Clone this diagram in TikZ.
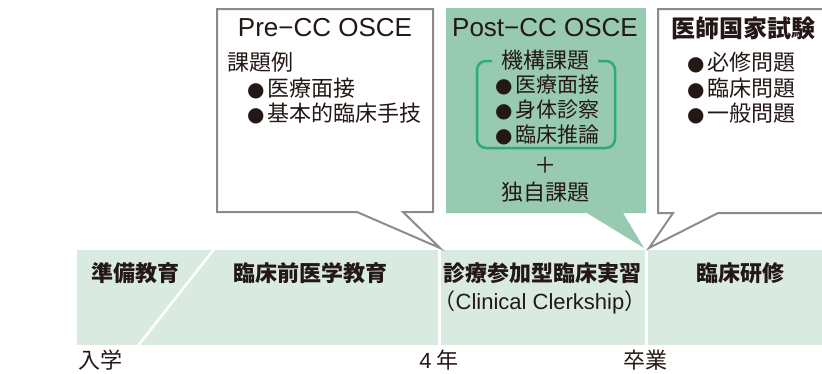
\documentclass[tikz,border=0pt]{standalone}
\usepackage{fontspec}
\setmainfont{Noto Sans CJK JP}
\newfontfamily\symfont{DejaVu Sans}
\newfontfamily\latinfont{Liberation Sans}
\definecolor{bandgreen}{HTML}{D9EAE1}
\definecolor{boxgreen}{HTML}{98CAB2}
\definecolor{linegreen}{HTML}{2DAA7D}
\definecolor{calloutgray}{HTML}{8C8C8C}
\definecolor{ink}{HTML}{231815}
\newcommand{\itm}{{\symfont\fontsize{20}{20}\selectfont ●}\hspace{3pt}}
\tikzset{
  band/.style={fill=bandgreen},
  callout/.style={draw=calloutgray, line width=2pt, fill=white},
  txt/.style={text=ink, inner sep=0pt, font=\fontsize{22}{22}\selectfont},
  ttl/.style={text=ink, inner sep=0pt, font=\latinfont\fontsize{26}{26}\selectfont},
  bandtxt/.style={text=ink, inner sep=0pt, font=\fontsize{22}{22}\selectfont\bfseries}
}
\begin{document}
\begin{tikzpicture}[x=1pt,y=-1pt]
  \useasboundingbox (0,0) rectangle (822,373);
  \clip (0,0) rectangle (822,373);
  \fill[band] (77,250) rectangle (438,345);
  \fill[band] (441,250) rectangle (645,345);
  \fill[band] (648,250) rectangle (830,345);
  \draw[white, line width=2.5pt] (137,347) -- (215,248);
  \node[bandtxt] (prep) at (135,273) {準備教育};
  \node[bandtxt] (precl) at (310,273) {臨床前医学教育};
  \node[bandtxt] (clerk) at (542,273) {診療参加型臨床実習};
  \node[txt] (clerken) at (540,302) {（{\latinfont Clinical Clerkship}）};
  \node[bandtxt] (resid) at (740,273) {臨床研修};
  \node[txt, anchor=base] (entry) at (100,368) {入学};
  \node[txt, anchor=base] (year4) at (439,368) {{\latinfont 4} 年};
  \node[txt, anchor=base] (grad) at (645,368) {卒業};
  \coordinate (tipA) at (440,248);
  \coordinate (tipB) at (644,248);
  \coordinate (tipC) at (649,248);
  \draw[callout] (217,9) -- (433,9) -- (433,212) -- (403,212) -- (tipA) -- (357,212) -- (217,212) -- cycle;
  \fill[boxgreen] (446,8) -- (646,8) -- (646,213) -- (623,213) -- (tipB) -- (587,213) -- (446,213) -- cycle;
  \draw[callout] (832,9) -- (658,9) -- (658,213) -- (673,213) -- (tipC) -- (718,213) -- (832,213);
  \draw[linegreen, line width=2.5pt, rounded corners=9pt] (492,61) -- (477,61) -- (477,148) -- (615,148) -- (615,61) -- (598,61);
  \node[ttl] (pretitle) at (325,28) {Pre−CC OSCE};
  \node[txt, anchor=west] (prelead) at (227,62) {課題例};
  \node[txt, anchor=west] (pre1) at (247,88) {\itm 医療面接};
  \node[txt, anchor=west] (pre2) at (247,113) {\itm 基本的臨床手技};
  \node[ttl] (posttitle) at (545,28) {Post−CC OSCE};
  \node[txt] (postlead) at (545,60) {機構課題};
  \node[txt, anchor=west, font=\fontsize{21}{21}\selectfont] (post1) at (495,85) {\itm 医療面接};
  \node[txt, anchor=west, font=\fontsize{21}{21}\selectfont] (post2) at (495,110) {\itm 身体診察};
  \node[txt, anchor=west, font=\fontsize{21}{21}\selectfont] (post3) at (495,135) {\itm 臨床推論};
  \node[txt] (plus) at (545,165) {＋};
  \node[txt] (postextra) at (545,192) {独自課題};
  \node[bandtxt, font=\fontsize{24}{24}\selectfont\bfseries] (kokushi) at (743,28) {医師国家試験};
  \node[txt, anchor=west] (nat1) at (687,62) {\itm 必修問題};
  \node[txt, anchor=west] (nat2) at (687,88) {\itm 臨床問題};
  \node[txt, anchor=west] (nat3) at (687,113) {\itm 一般問題};
\end{tikzpicture}
\end{document}
